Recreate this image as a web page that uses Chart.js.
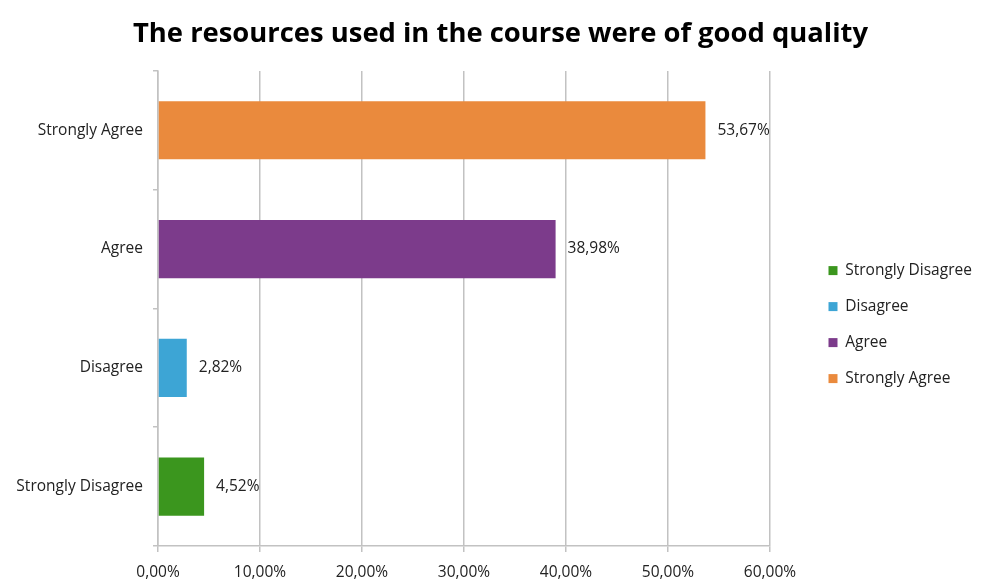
<!DOCTYPE html>
<html lang="en">
<head>
    <meta charset="UTF-8">
    <title>The resources used in the course were of good quality</title>
    <style>
        body { margin: 0; background: #fff; }
    </style>
</head>
<body>
    <canvas id="myChart" width="981" height="581"></canvas>

    <script src="https://cdn.jsdelivr.net/npm/chart.js"></script>
    <script>
        // data
        let categories = ['Strongly Disagree', 'Disagree', 'Agree', 'Strongly Agree'];
        let percents = [4.52, 2.82, 38.98, 53.67];
        let colors = ['#3B961E', '#3DA5D5', '#7C3B8B', '#EA8A3D'];
        let tickLabels = ['0,00%', '10,00%', '20,00%', '30,00%', '40,00%', '50,00%', '60,00%'];

        const font = "'Open Sans', 'DejaVu Sans', sans-serif";
        const gridGray = '#c2c2c2';
        const textSize = 15.5;

        // value labels at the end of each bar
        const barValues = {
            id: 'barValues',
            afterDatasetsDraw(chart) {
                const c = chart.ctx;
                const meta = chart.getDatasetMeta(0);
                c.save();
                c.font = textSize + 'px ' + font;
                c.fillStyle = '#222';
                c.textAlign = 'left';
                c.textBaseline = 'middle';
                meta.data.forEach((bar, i) => {
                    let txt = percents[i].toFixed(2).replace('.', ',') + '%';
                    c.fillText(txt, bar.x + 12, bar.y);
                });
                c.restore();
            }
        };

        // leave a gap between the plot and the legend, nudge the title like excel does
        const nudge = {
            id: 'nudge',
            afterLayout(chart) {
                chart.legend.left += 38;
                chart.legend.right += 38;
                chart.titleBlock.left += 10;
                chart.titleBlock.right += 10;
            }
        };

        const ctx = document.getElementById('myChart');

        let chart = new Chart(ctx, {
            type: 'bar',
            data: {
                labels: categories,
                datasets: [{
                    data: percents,
                    backgroundColor: colors,
                    barPercentage: 0.49,
                    categoryPercentage: 1,
                }],
            },
            options: {
                responsive: false,
                animation: false,
                indexAxis: 'y',
                layout: { padding: { right: 0 } },
                scales: {
                    x: {
                        min: 0,
                        max: 60,
                        ticks: {
                            stepSize: 10,
                            color: '#222',
                            font: { family: font, size: textSize },
                            padding: 11,
                            callback: (v, i) => tickLabels[i],
                        },
                        grid: {
                            color: gridGray,
                            lineWidth: 1.5,
                            tickLength: 6,
                        },
                        border: { color: gridGray, width: 1.5 },
                        afterFit: s => { s.height = 35; s.paddingRight = 211; },
                    },
                    y: {
                        reverse: true,
                        ticks: {
                            color: '#222',
                            font: { family: font, size: textSize },
                            padding: 10,
                        },
                        grid: {
                            color: gridGray,
                            lineWidth: 1.5,
                            tickLength: 5,
                            drawOnChartArea: false,
                        },
                        border: { color: gridGray, width: 1.5 },
                        afterFit: s => { s.width = 158; },
                    },
                },
                plugins: {
                    title: {
                        display: true,
                        text: 'The resources used in the course were of good quality',
                        color: '#000',
                        font: { family: font, size: 27.4, weight: 'bold' },
                        padding: { top: 18, bottom: 20 },
                    },
                    legend: {
                        position: 'right',
                        maxWidth: 168,
                        onClick: () => {},
                        title: {
                            display: true,
                            text: ' ',
                            font: { size: 1 },
                            padding: { top: 67, bottom: 0 },
                        },
                        labels: {
                            boxWidth: 9,
                            boxHeight: 9,
                            padding: 20.5,
                            color: '#222',
                            font: { family: font, size: textSize },
                            generateLabels: () => categories.map((c, i) => ({
                                text: c,
                                fillStyle: colors[i],
                                strokeStyle: colors[i],
                                lineWidth: 0,
                                hidden: false,
                                index: i,
                                fontColor: '#222',
                            })),
                        },
                    },
                    tooltip: { enabled: false },
                },
            },
            plugins: [barValues, nudge],
        });
    </script>
</body>
</html>
